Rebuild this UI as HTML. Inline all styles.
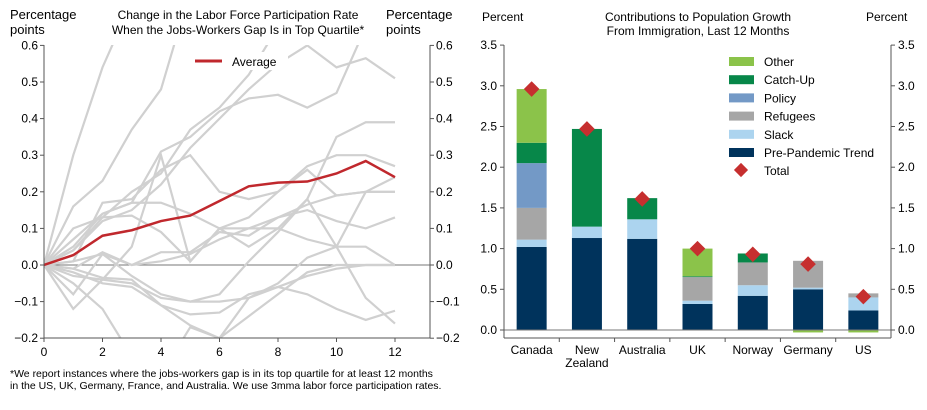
<!DOCTYPE html>
<html><head><meta charset="utf-8"><style>
body{margin:0;background:#fff;font-family:"Liberation Sans",Arial,sans-serif;}
svg text{font-family:"Liberation Sans",Arial,sans-serif;fill:#000;}
</style></head><body>
<svg width="927" height="405" viewBox="0 0 927 405" xmlns="http://www.w3.org/2000/svg">
<g id="left"></g>
<g id="right"></g>
</svg>
<script>
const NS="http://www.w3.org/2000/svg";
function mk(p,t,a){const e=document.createElementNS(NS,t);for(const k in a)e.setAttribute(k,a[k]);p.appendChild(e);return e;}
function tx(p,x,y,s,a){const e=mk(p,'text',Object.assign({x:x,y:y,'font-size':12},a||{}));e.textContent=s;return e;}

// ---------- LEFT CHART DATA ----------
const months=[0,1,2,3,4,5,6,7,8,9,10,11,12];
const avgSeries=[0,0.027,0.08,0.095,0.12,0.135,0.175,0.215,0.225,0.228,0.25,0.284,0.24];
const g1=[0,0.30,0.54,0.72,0.90,1.1,1.3,1.5,1.6,1.7,1.8,1.9,2.0];
const g2=[0,0.16,0.23,0.37,0.48,0.75,0.95,1.1,1.2,1.3,1.4,1.5,1.6];
const g3=[0,0.10,0.13,0.20,0.25,0.37,0.43,0.52,0.65,0.75,0.8,0.85,0.9];
const g4=[0,0.07,0.14,0.17,0.31,0.35,0.42,0.455,0.465,0.43,0.47,0.65,0.7];
const g5=[0,0.04,0.12,0.15,0.22,0.32,0.40,0.48,0.55,0.60,0.54,0.565,0.51];
const g6=[0,-0.12,-0.04,0.05,0.30,0.01,0.10,0.10,0.10,0.07,0.05,-0.09,-0.16];
const g7=[0,0.01,0.17,0.18,0.26,0.30,0.20,0.18,0.20,0.27,0.30,0.30,0.27];
const g8=[0,0.05,0.14,0.17,0.17,0.14,0.10,0.05,0.10,0.18,0.35,0.39,0.39];
const g9=[0,0.04,0.13,0.135,0.09,0.01,0.10,0.13,0.20,0.26,0.19,0.20,0.20];
const g10=[0,0.01,0.03,0.0,0.01,0.03,0.07,0.10,0.13,0.15,0.12,0.10,0.13];
const g11=[0,-0.01,0.035,0.0,0.035,0.035,0.09,0.08,0.13,0.165,0.19,0.20,0.20];
const g12=[0,-0.08,0.03,-0.03,-0.08,-0.10,-0.08,0.01,0.09,0.18,0.05,0.20,0.24];
const g13=[0,-0.02,-0.05,-0.06,-0.11,-0.135,-0.13,-0.08,-0.06,-0.03,-0.01,0.0,0.0];
const g14=[0,-0.03,-0.04,-0.05,-0.09,-0.10,-0.10,-0.09,-0.06,-0.08,-0.12,-0.15,-0.125];
const g15=[0,-0.05,-0.12,-0.25,-0.3,-0.17,-0.20,-0.09,-0.05,0.02,0.05,0.05,0.0];
const g16=[0,-0.01,-0.035,-0.04,-0.11,-0.165,-0.20,-0.14,-0.08,-0.02,0.0,0.0,0.0];
const greySeries=[g1,g2,g3,g4,g5,g6,g7,g8,g9,g10,g11,g12,g13,g14,g15,g16];
const leftTicks=[0.6,0.5,0.4,0.3,0.2,0.1,0.0,-0.1,-0.2];
const leftTickLabels=["0.6","0.5","0.4","0.3","0.2","0.1","0.0","\u22120.1","\u22120.2"];
const xTicks=[0,2,4,6,8,10,12];

// ---------- RIGHT CHART DATA ----------
const countries=["Canada","New Zealand","Australia","UK","Norway","Germany","US"];
const prePandemic=[1.02,1.13,1.12,0.32,0.42,0.50,0.24];
const slack=[0.09,0.14,0.24,0.04,0.13,0.02,0.16];
const refugees=[0.39,0,0,0.29,0.28,0.33,0.05];
const policy=[0.55,0,0,0,0,0,0];
const catchUp=[0.25,1.20,0.26,0.01,0.11,0,0];
const other=[0.66,0,0,0.34,0,-0.03,-0.03];
const totals=[2.96,2.47,1.61,1.0,0.93,0.81,0.41];
const rightTicks=[0,0.5,1.0,1.5,2.0,2.5,3.0,3.5];

// ===== LEFT =====
(function(){
const L=document.getElementById('left');
const x=v=>44+v*29.25, y=v=>265-v*366;
const x0=44,x1=430,yt=45,yb=338;
const defs=mk(L,'defs',{});const cp=mk(defs,'clipPath',{id:'lc'});mk(cp,'rect',{x:x0,y:yt,width:x1-x0,height:yb-yt});
mk(L,'line',{x1:x0,y1:y(0),x2:x1,y2:y(0),stroke:'#777','stroke-width':1,});
const gg=mk(L,'g',{'clip-path':'url(#lc)'});
greySeries.forEach((s,i)=>{
 const p=mk(gg,'polyline',{points:s.map((v,j)=>x(months[j])+','+y(v)).join(' '),fill:'none',stroke:'#d0d0d0','stroke-width':2.2});
 
 
});
const leg=mk(L,'g',{});
mk(leg,'rect',{x:188,y:52,width:100,height:18,fill:'#fff'});
mk(leg,'line',{x1:195,y1:61,x2:222,y2:61,stroke:'#c0282d','stroke-width':3});
tx(leg,232,66,'Average',{'font-size':12});
const av=mk(gg,'polyline',{points:avgSeries.map((v,j)=>x(months[j])+','+y(v)).join(' '),fill:'none',stroke:'#c0282d','stroke-width':2.5});


mk(L,'line',{x1:x0,y1:yt,x2:x0,y2:yb,stroke:'#555'});
mk(L,'line',{x1:x1,y1:yt,x2:x1,y2:yb,stroke:'#555'});
mk(L,'line',{x1:x0,y1:yb,x2:x1,y2:yb,stroke:'#555'});
leftTicks.forEach((v,i)=>{
 mk(L,'line',{x1:x0-4,y1:y(v),x2:x0,y2:y(v),stroke:'#555'});
 mk(L,'line',{x1:x1,y1:y(v),x2:x1+4,y2:y(v),stroke:'#555'});
 const a=tx(L,x0-6,y(v)+4,leftTickLabels[i],{'text-anchor':'end'});
 
 const b=tx(L,x1+6,y(v)+4,leftTickLabels[i]);
 
});
xTicks.forEach(v=>{
 mk(L,'line',{x1:x(v),y1:yb,x2:x(v),y2:yb+4,stroke:'#555'});
 const t=tx(L,x(v),yb+18,String(v),{'text-anchor':'middle'});
 
});
tx(L,10,19,'Percentage',{'font-size':13,});
tx(L,10,34,'points',{'font-size':13});
tx(L,386,19,'Percentage',{'font-size':13,});
tx(L,386,34,'points',{'font-size':13});
tx(L,238,19,'Change in the Labor Force Participation Rate',{'text-anchor':'middle',});
tx(L,238,34,'When the Jobs-Workers Gap Is in Top Quartile*',{'text-anchor':'middle'});
tx(L,10,377,'*We report instances where the jobs-workers gap is in its top quartile for at least 12 months',{'font-size':10.5,});
tx(L,10,389,'in the US, UK, Germany, France, and Australia. We use 3mma labor force participation rates.',{'font-size':10.5});
})();

// ===== RIGHT =====
(function(){
const R=document.getElementById('right');
const x0=504,x1=891,yt=45,yb=338;
const y=v=>330-v*81.4;
const band=(x1-x0)/countries.length;
const cx=i=>x0+band*(i+0.5);
const bw=30;
const layers=[[prePandemic,'#00335c','pre-pandemic'],[slack,'#acd4ef','slack'],[refugees,'#a6a6a6','refugees'],[policy,'#7399c6','policy'],[catchUp,'#078749','catch-up'],[other,'#8bc34a','other']];
countries.forEach((c,i)=>{
 let pos=0,neg=0;
 layers.forEach(([arr,col,nm])=>{
  const v=arr[i]; if(!v)return;
  let a,b; if(v>0){a=pos;b=pos+v;pos=b;}else{a=neg+v;b=neg;neg=a;}
  const r=mk(R,'rect',{x:cx(i)-bw/2,y:y(b),width:bw,height:y(a)-y(b),fill:col});
  
  
 });
});
mk(R,'line',{x1:x0,y1:y(0),x2:x1,y2:y(0),stroke:'#777'});
totals.forEach((v,i)=>{
 const d=mk(R,'rect',{x:cx(i)-5.5,y:y(v)-5.5,width:11,height:11,fill:'#c62f2f',transform:'rotate(45 '+cx(i)+' '+y(v)+')'});
 
 
});
mk(R,'line',{x1:x0,y1:yt,x2:x0,y2:yb,stroke:'#555'});
mk(R,'line',{x1:x1,y1:yt,x2:x1,y2:yb,stroke:'#555'});
mk(R,'line',{x1:x0,y1:yb,x2:x1,y2:yb,stroke:'#555'});
rightTicks.forEach(v=>{
 mk(R,'line',{x1:x0-4,y1:y(v),x2:x0,y2:y(v),stroke:'#555'});
 mk(R,'line',{x1:x1,y1:y(v),x2:x1+4,y2:y(v),stroke:'#555'});
 const a=tx(R,x0-7,y(v)+4,v.toFixed(1),{'text-anchor':'end'});
 
 const b=tx(R,x1+7,y(v)+4,v.toFixed(1));
 
});
for(let i=1;i<countries.length;i++) mk(R,'line',{x1:x0+band*i,y1:yb,x2:x0+band*i,y2:yb+4,stroke:'#555'});
countries.forEach((c,i)=>{
 const parts=c==='New Zealand'?['New','Zealand']:[c];
 parts.forEach((p,k)=>{const t=tx(R,cx(i),yb+16+k*13,p,{'text-anchor':'middle'});
  });
});
const legItems=[['Other','#8bc34a'],['Catch-Up','#078749'],['Policy','#7399c6'],['Refugees','#a6a6a6'],['Slack','#acd4ef'],['Pre-Pandemic Trend','#00335c']];
const lg=mk(R,'g',{});
legItems.forEach(([n,c],i)=>{
 const yy=57+i*18.2;
 mk(lg,'rect',{x:729,y:yy,width:25,height:9,fill:c});
 tx(lg,764,yy+9,n);
});
mk(lg,'rect',{x:736,y:165,width:10,height:10,fill:'#c62f2f',transform:'rotate(45 741 170)'});
tx(lg,764,175,'Total');
tx(R,482,21,'Percent',{});
tx(R,866,21,'Percent',{});
tx(R,698,21,'Contributions to Population Growth',{'text-anchor':'middle',});
tx(R,698,35,'From Immigration, Last 12 Months',{'text-anchor':'middle'});
})();
</script>
</body></html>
